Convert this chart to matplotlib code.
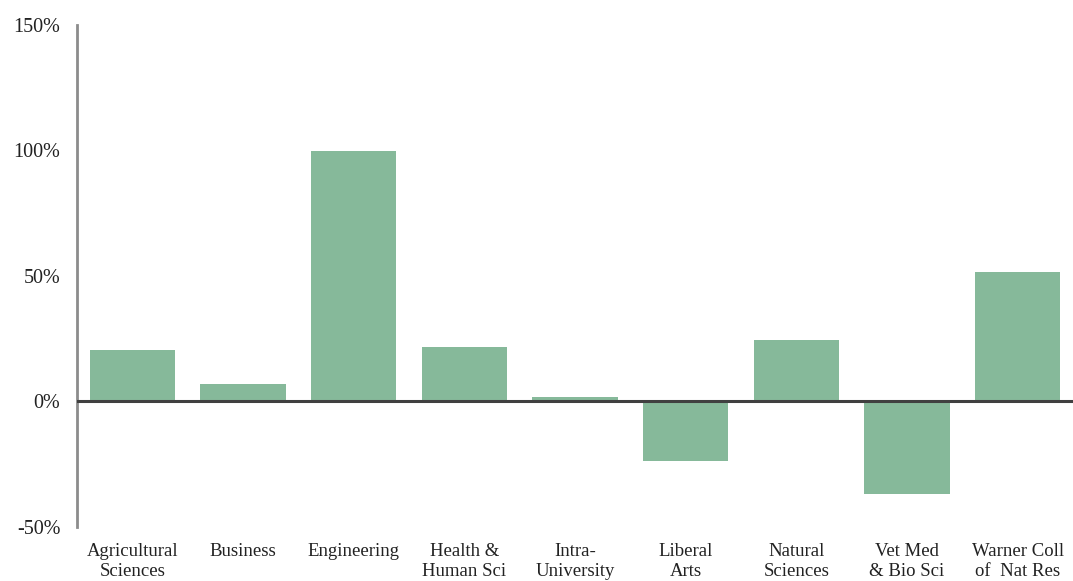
import matplotlib
matplotlib.use("Agg")
import matplotlib.pyplot as plt
from matplotlib.ticker import FuncFormatter

categories = ["Agricultural\nSciences", "Business", "Engineering", "Health &\nHuman Sci",
              "Intra-\nUniversity", "Liberal\nArts", "Natural\nSciences",
              "Vet Med\n& Bio Sci", "Warner Coll\nof  Nat Res"]
change_pct = [20.3, 6.8, 99.7, 21.5, 1.8, -23.8, 24.5, -36.9, 51.4]
yticks = [-50, 0, 50, 100, 150]

plt.rcParams['font.family'] = ['Liberation Serif', 'DejaVu Serif']

fig = plt.figure(figsize=(10.73, 5.81), dpi=100)
ax = fig.add_axes([77 / 1073, 54 / 581, 1 - 77 / 1073, (527 - 24.5) / 581])

x = range(len(categories))
ax.bar(x, change_pct, width=0.77, color="#86b99a", zorder=2)
ax.axhline(0, color="#404040", linewidth=2.2, zorder=3)

ax.set_xlim(-0.5, len(categories) - 0.5)
ax.set_ylim(-50, 150)
ax.set_yticks(yticks)
ax.yaxis.set_major_formatter(FuncFormatter(lambda v, p: f"{v:.0f}%"))
ax.set_xticks(list(x))
ax.set_xticklabels(categories, linespacing=1.25)

ax.tick_params(axis="y", length=0, pad=12, labelsize=14.5, labelcolor="#222222")
ax.tick_params(axis="x", length=0, pad=11.5, labelsize=13.5, labelcolor="#222222")

for side in ["top", "right", "bottom"]:
    ax.spines[side].set_visible(False)
ax.spines["left"].set_color("#8c8c8c")
ax.spines["left"].set_linewidth(2)

fig.savefig("out.png", dpi=100)
